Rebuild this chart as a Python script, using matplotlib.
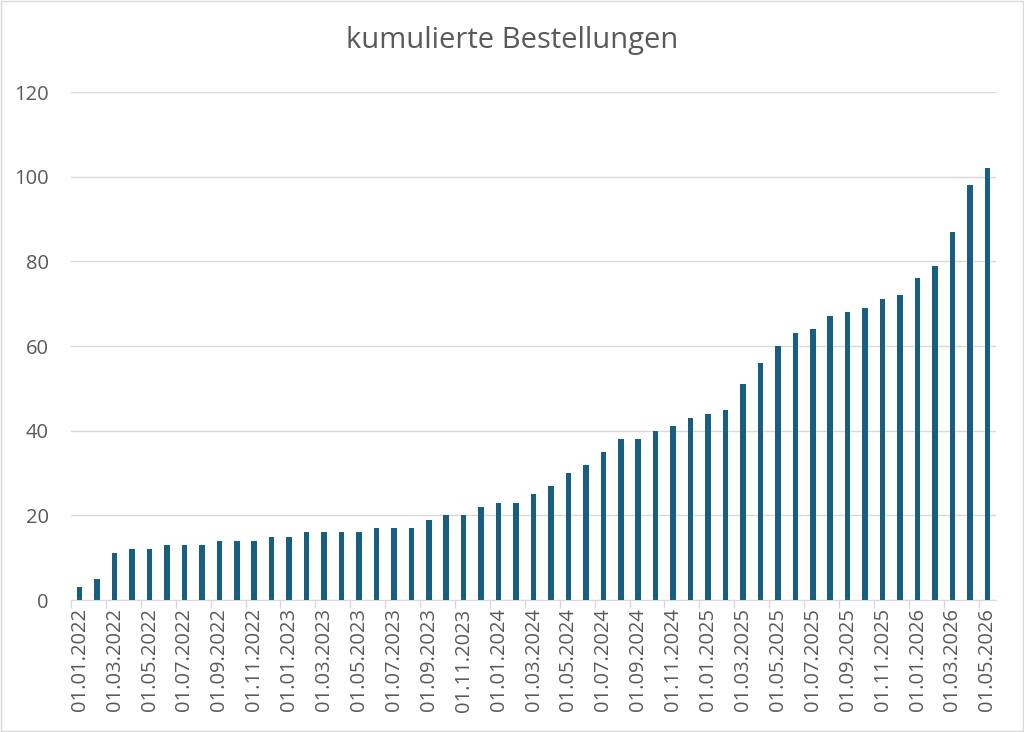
import numpy as np
import matplotlib.pyplot as plt
from matplotlib.patches import Rectangle

plt.rcParams['font.family'] = ['Open Sans', 'DejaVu Sans']

# monthly dates Jan 2022 .. May 2026
months = [f"01.{m:02d}.{y}" for y in range(2022, 2027) for m in range(1, 13)][:53]
orders = [3, 5, 11, 12, 12, 13, 13, 13, 14, 14, 14, 15, 15, 16, 16, 16, 16, 17, 17, 17,
          19, 20, 20, 22, 23, 23, 25, 27, 30, 32, 35, 38, 38, 40, 41, 43, 44, 45, 51, 56,
          60, 63, 64, 67, 68, 69, 71, 72, 76, 79, 87, 98, 102]
y_ticks = [0, 20, 40, 60, 80, 100, 120]

text_col = '#595959'
grid_col = '#D9D9D9'
bar_col = '#185E80'

fig = plt.figure(figsize=(10.24, 7.32), dpi=100)
ax = fig.add_axes([0.0693, 0.1803, 0.9034, 0.694])

x = np.arange(len(orders))
ax.bar(x, orders, width=0.32, color=bar_col, zorder=3)

ax.set_xlim(-0.5, len(orders) - 0.5)
ax.set_ylim(0, 120)
ax.set_yticks(y_ticks)
ax.set_yticklabels([str(v) for v in y_ticks], color=text_col, fontsize=14.5)
ax.tick_params(axis='y', length=0, pad=16)
ax.yaxis.grid(True, color=grid_col, linewidth=1, zorder=0)

ax.set_xticks(x[::2])
ax.set_xticklabels(months[::2], rotation=90, color=text_col, fontsize=14.5)
ax.tick_params(axis='x', which='major', length=0, pad=6)
ax.set_xticks(np.arange(-0.5, len(orders), 2), minor=True)
ax.tick_params(axis='x', which='minor', length=6, color=grid_col, width=1)

for s in ['top', 'right', 'left']:
    ax.spines[s].set_visible(False)
ax.spines['bottom'].set_color(grid_col)

fig.text(0.5, 0.944, 'kumulierte Bestellungen', ha='center', va='center',
         fontsize=21, color=text_col)

fig.patches.append(Rectangle((0.001, 0.001), 0.998, 0.998, transform=fig.transFigure,
                             fill=False, edgecolor=grid_col, linewidth=1))

fig.savefig('out.png', dpi=100)
